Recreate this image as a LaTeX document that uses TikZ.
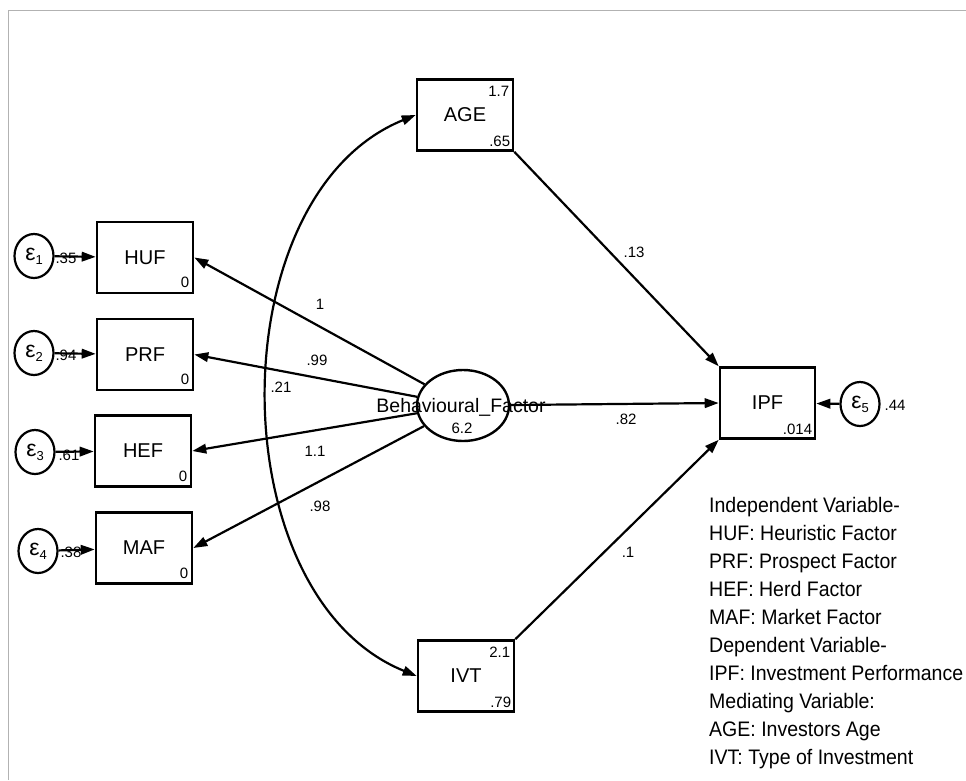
\documentclass[tikz,border=0pt]{standalone}
\usepackage{fontspec}
\setmainfont{Liberation Sans}
\newfontfamily\legendfont{Liberation Sans}[FakeStretch=0.93]
\usepackage{tikz}
\usetikzlibrary{shapes.geometric,arrows.meta,positioning}

\newcommand{\errlabel}[1]{{\fontsize{23}{23}\selectfont ε}\raisebox{-4pt}{\fontsize{13}{13}\selectfont #1}}

\begin{document}
\begin{tikzpicture}[x=1pt, y=-1pt,
    box/.style={rectangle, draw, line width=2.6pt, minimum width=96pt, minimum height=71pt, inner sep=0pt, font=\fontsize{20}{20}\selectfont},
    latent/.style={ellipse, draw, line width=2.4pt, minimum width=92pt, minimum height=71pt, inner sep=0pt},
    err/.style={ellipse, draw, line width=2.2pt, minimum width=39pt, minimum height=44pt, inner sep=0pt},
    num/.style={inner sep=0pt, font=\fontsize{15}{15}\selectfont},
    arrow/.style={-{Triangle[length=14pt,width=9.5pt]}, line width=2.2pt},
    dblarrow/.style={{Triangle[length=14pt,width=9.5pt]}-{Triangle[length=14pt,width=9.5pt]}, line width=2.2pt}
]
    \useasboundingbox (0,0) rectangle (966,780);
    \draw[gray!60, line width=1pt] (8,780) -- (8,10) -- (966,10);

    % observed variables
    \node[box] (age) at (465,115) {AGE};
    \node[box] (huf) at (145,257.5) {HUF};
    \node[box] (prf) at (145,354.5) {PRF};
    \node[box] (hef) at (143,451) {HEF};
    \node[box] (maf) at (144,548) {MAF};
    \node[box, minimum width=95pt] (ipf) at (767.5,403) {IPF};
    \node[box] (ivt) at (466,676) {IVT};

    \node[num, anchor=north east] (age-mean) at ([shift={(-5,8)}]age.north east) {1.7};
    \node[num, anchor=south east] (age-var) at ([shift={(-4,-5)}]age.south east) {.65};
    \node[num, anchor=north east] (ivt-mean) at ([shift={(-5,8)}]ivt.north east) {2.1};
    \node[num, anchor=south east] (ivt-var) at ([shift={(-4,-5)}]ivt.south east) {.79};
    \node[num, anchor=south east] (ipf-var) at ([shift={(-4,-5)}]ipf.south east) {.014};
    \node[num, anchor=south east] (huf-var) at ([shift={(-5,-6)}]huf.south east) {0};
    \node[num, anchor=south east] (prf-var) at ([shift={(-5,-6)}]prf.south east) {0};
    \node[num, anchor=south east] (hef-var) at ([shift={(-5,-6)}]hef.south east) {0};
    \node[num, anchor=south east] (maf-var) at ([shift={(-5,-6)}]maf.south east) {0};

    % latent variable
    \node[latent] (bf) at (463,405.5) {};
    \node[inner sep=0pt, font=\fontsize{19.5}{19.5}\selectfont] (bf-name) at (461,407) {Behavioural\_Factor};
    \node[num] (bf-var) at (462,428) {6.2};

    % error terms
    \node[err] (e1) at (34,256) {\errlabel{1}};
    \node[err] (e2) at (34,353) {\errlabel{2}};
    \node[err] (e3) at (35,452) {\errlabel{3}};
    \node[err] (e4) at (38,551) {\errlabel{4}};
    \node[err] (e5) at (860,404) {\errlabel{5}};

    \draw[arrow] (e1) -- (huf);
    \draw[arrow] (e2) -- (prf);
    \draw[arrow] (e3) -- (hef);
    \draw[arrow] (e4) -- (maf);
    \draw[arrow] (e5) -- (ipf);

    \node[num] (e1-var) at (66,258) {.35};
    \node[num] (e2-var) at (66,355) {.94};
    \node[num] (e3-var) at (69,455) {.61};
    \node[num] (e4-var) at (71,552) {.38};
    \node[num] (e5-var) at (895,405) {.44};

    % paths
    \draw[arrow] (bf) -- (huf.east);
    \draw[arrow] (bf) -- (prf.east);
    \draw[arrow] (bf) -- (hef.east);
    \draw[arrow] (bf) -- (maf.east);
    \draw[arrow] (bf) -- (ipf.west);
    \draw[arrow] (age.south east) -- (ipf.north west);
    \draw[arrow] (ivt.north east) -- (ipf.south west);
    \draw[dblarrow] (age.west) .. controls +(-198,80) and +(-198,-80) .. (ivt.west);

    \node[num] (w-huf) at (320,304) {1};
    \node[num] (w-prf) at (317,360) {.99};
    \node[num] (w-hef) at (315,451) {1.1};
    \node[num] (w-maf) at (320,506) {.98};
    \node[num] (w-ipf) at (626,419) {.82};
    \node[num] (w-age) at (634,252) {.13};
    \node[num] (w-ivt) at (628,552) {.1};
    \node[num] (w-cov) at (281,387) {.21};

    % legend
    \node[anchor=north west, align=left, inner sep=0pt, font=\legendfont\fontsize{21}{28}\selectfont] (legend) at (709,497)
        {Independent Variable-\\HUF: Heuristic Factor\\PRF: Prospect Factor\\HEF: Herd Factor\\MAF: Market Factor\\Dependent Variable-\\IPF: Investment Performance\\Mediating Variable:\\AGE: Investors Age\\IVT: Type of Investment};
\end{tikzpicture}
\end{document}
